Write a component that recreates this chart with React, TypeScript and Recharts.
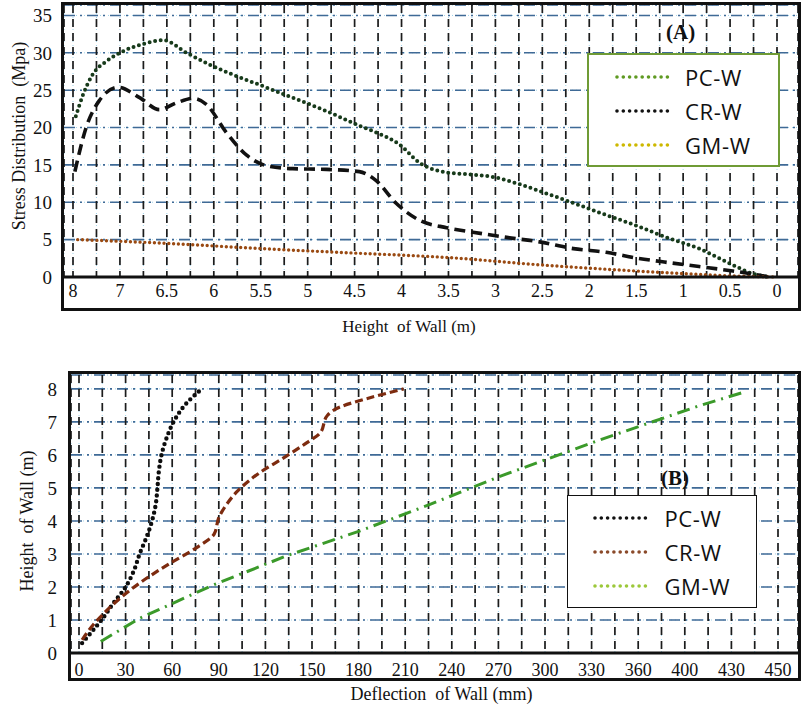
import React from 'react'
import { LineChart, Line, XAxis, YAxis, CartesianGrid, Legend } from 'recharts'

const seriesNames = ['PC-W', 'CR-W', 'GM-W']

// (A) stress vs height of wall
const pcwHeightA = [7.47, 7.39, 7.29, 7.14, 7.0, 6.75, 6.54, 6.29, 6.04, 5.8, 5.51, 5.16, 4.8, 4.46, 4.3, 4.02, 3.81, 3.52, 3.24, 3.03, 2.74, 2.46, 2.17, 1.82, 1.48, 1.2, 0.83, 0.47, 0.26, 0.08]
const pcwStressA = [21.5, 24.5, 27.1, 28.9, 30.0, 31.2, 31.7, 30.0, 28.4, 27.1, 25.7, 24.0, 22.2, 20.3, 19.5, 17.7, 15.3, 14.0, 13.7, 13.4, 12.4, 11.2, 9.9, 8.3, 6.8, 5.4, 3.8, 1.6, 0.45, 0]
const crwHeightA = [7.48, 7.36, 7.22, 7.02, 6.79, 6.58, 6.4, 6.22, 6.08, 5.87, 5.65, 5.44, 5.16, 4.8, 4.45, 4.27, 4.06, 3.81, 3.52, 3.24, 2.88, 2.53, 2.17, 1.82, 1.48, 1.2, 0.83, 0.47, 0.26, 0.08]
const crwStressA = [14.1, 20.0, 23.6, 25.4, 24.0, 22.4, 23.3, 23.9, 23.1, 19.4, 16.3, 14.9, 14.5, 14.4, 14.1, 12.9, 9.9, 7.6, 6.6, 6.0, 5.3, 4.7, 3.8, 3.3, 2.5, 2.0, 1.4, 0.8, 0.4, 0]
const gmwHeightA = [7.45, 6.5, 5.5, 4.5, 3.5, 2.5, 1.5, 1.0, 0.5, 0.0]
const gmwStressA = [5.0, 4.5, 3.8, 3.2, 2.6, 1.6, 0.8, 0.45, 0.15, 0]

const xGridA = [0, 0.25, 0.5, 0.75, 1, 1.25, 1.5, 1.75, 2, 2.25, 2.5, 2.75, 3, 3.25, 3.5, 3.75, 4, 4.25, 4.5, 4.75, 5, 5.25, 5.5, 5.75, 6, 6.25, 6.5, 6.75, 7, 7.25, 7.5]
const xLabelAtA = [7.5, 7, 6.5, 6, 5.5, 5, 4.5, 4, 3.5, 3, 2.5, 2, 1.5, 1, 0.5, 0]
const xLabelTextA = ['8', '7', '6.5', '6', '5.5', '5', '4.5', '4', '3.5', '3', '2.5', '2', '1.5', '1', '0.5', '0']
const yTicksA = [0, 5, 10, 15, 20, 25, 30, 35]

// (B) height vs deflection of wall
const pcwDeflB = [2, 11, 14.5, 22, 30, 35.4, 39, 43.4, 47, 49.4, 50.5, 51.4, 53.1, 56.3, 60.9, 68, 79]
const pcwHeightB = [0.3, 0.8, 1.0, 1.5, 2.0, 2.5, 3.0, 3.5, 4.0, 4.5, 5.0, 5.5, 6.0, 6.5, 7.0, 7.5, 8.0]
const crwDeflB = [2, 10, 16, 25, 40, 58, 76, 87, 90, 95, 102, 116, 132, 147, 155, 160, 168, 185, 209]
const crwHeightB = [0.4, 0.9, 1.2, 1.6, 2.15, 2.7, 3.2, 3.6, 4.1, 4.5, 4.9, 5.45, 5.92, 6.38, 6.65, 7.2, 7.45, 7.7, 8.0]
const gmwDeflB = [14, 39, 86, 134, 181, 226, 271, 335, 400, 428]
const gmwHeightB = [0.35, 1.05, 2.05, 2.95, 3.7, 4.5, 5.35, 6.45, 7.5, 7.9]

const xGridB = [0, 15, 30, 45, 60, 75, 90, 105, 120, 135, 150, 165, 180, 195, 210, 225, 240, 255, 270, 285, 300, 315, 330, 345, 360, 375, 390, 405, 420, 435, 450]
const xLabelAtB = [0, 30, 60, 90, 120, 150, 180, 210, 240, 270, 300, 330, 360, 390, 420, 450]
const xLabelTextB = ['0', '30', '60', '90', '120', '150', '180', '210', '240', '270', '300', '330', '360', '400', '430', '450']
const yTicksB = [0, 1, 2, 3, 4, 5, 6, 7, 8]

const legendColorsA = ['#5f9a22', '#111111', '#cdb800']
const legendColorsB = ['#111111', '#8b4a2a', '#9cc83a']

const pcwA = pcwHeightA.map((h, i) => ({ h, s: pcwStressA[i] }))
const crwA = crwHeightA.map((h, i) => ({ h, s: crwStressA[i] }))
const gmwA = gmwHeightA.map((h, i) => ({ h, s: gmwStressA[i] }))
const pcwB = pcwDeflB.map((x, i) => ({ x, h: pcwHeightB[i] }))
const crwB = crwDeflB.map((x, i) => ({ x, h: crwHeightB[i] }))
const gmwB = gmwDeflB.map((x, i) => ({ x, h: gmwHeightB[i] }))

const serif = '"Liberation Serif", "Times New Roman", serif'

const lookupLabel = (at: number[], text: string[]) => (v: number) => {
  const i = at.indexOf(v)
  return i >= 0 ? text[i] : ''
}

const axisTitle = (text: string, vertical: boolean, dx: number, dy: number, size: number) => (props: any) => {
  const vb = props.viewBox || { x: 0, y: 0, width: 0, height: 0 }
  const cx = vb.x + vb.width / 2 + dx
  const cy = vb.y + vb.height / 2 + dy
  return (
    <text
      x={cx}
      y={cy}
      transform={vertical ? `rotate(-90 ${cx} ${cy})` : undefined}
      textAnchor="middle"
      dominantBaseline="central"
      style={{ fontFamily: serif, fontSize: size, fill: '#111', whiteSpace: 'pre' }}
    >
      {text}
    </text>
  )
}

function LegendBox({ colors, border, bw, width, height, padTop, padLeft, gap }: any) {
  return (
    <div style={{ width, height, boxSizing: 'border-box', border: `${bw}px solid ${border}`, background: '#fff', paddingTop: padTop }}>
      {seriesNames.map((n, i) => (
        <div key={n} style={{ display: 'flex', alignItems: 'center', height: 34 }}>
          <svg width={60} height={8} style={{ marginLeft: padLeft, flex: 'none' }}>
            <line x1={2} y1={4} x2={58} y2={4} stroke={colors[i]} strokeWidth={3.6} strokeDasharray="0 6.3" strokeLinecap="round" />
          </svg>
          <span style={{ marginLeft: gap, fontFamily: '"Open Sans", sans-serif', fontSize: 22, color: '#111', letterSpacing: 0.6, lineHeight: '34px' }}>{n}</span>
        </div>
      ))}
    </div>
  )
}

export default function App() {
  return (
    <div style={{ position: 'absolute', left: 0, top: 0, width: 803, height: 710, background: '#fff', overflow: 'hidden' }}>
      <div style={{ position: 'absolute', left: 0, top: 0 }}>
        <LineChart width={803} height={340} margin={{ top: 5, right: 5, bottom: 31, left: 0 }}>
          <CartesianGrid stroke="#9fd3ea" strokeDasharray="1 3" />
          <CartesianGrid vertical={false} stroke="#3f6a96" strokeDasharray="11 5 2 5" strokeWidth={1.6} />
          <CartesianGrid horizontal={false} stroke="#1c1c1c" strokeDasharray="8 6" strokeWidth={1.7} />
          <XAxis
            type="number"
            dataKey="h"
            domain={[0, 7.5]}
            reversed
            ticks={xGridA}
            interval={0}
            height={32}
            padding={{ left: 9, right: 21 }}
            axisLine={{ stroke: '#111', strokeWidth: 3 }}
            tickLine={false}
            tickMargin={1}
            tickFormatter={lookupLabel(xLabelAtA, xLabelTextA)}
            tick={{ fill: '#111', fontSize: 18, fontFamily: serif }}
            label={{ content: axisTitle('Height  of Wall (m)', false, -22, 33, 17) }}
          />
          <YAxis
            type="number"
            domain={[0, 36.4]}
            ticks={yTicksA}
            interval={0}
            width={64}
            axisLine={false}
            tickLine={false}
            tickMargin={6}
            tick={{ fill: '#111', fontSize: 19, fontFamily: serif }}
            label={{ content: axisTitle('Stress Distribution  (Mpa)', true, -13, -5, 18) }}
          />
          <Line data={pcwA} dataKey="s" name="PC-W" type="monotone" stroke="#173a1a" strokeWidth={4} strokeDasharray="0 5.6" strokeLinecap="round" dot={false} activeDot={false} isAnimationActive={false} />
          <Line data={crwA} dataKey="s" name="CR-W" type="monotone" stroke="#111" strokeWidth={3.6} strokeDasharray="11 6" dot={false} activeDot={false} isAnimationActive={false} />
          <Line data={gmwA} dataKey="s" name="GM-W" type="monotone" stroke="#9a4a12" strokeWidth={3.4} strokeDasharray="0 4.8" strokeLinecap="round" dot={false} activeDot={false} isAnimationActive={false} />
          <Legend
            layout="horizontal"
            align="center"
            verticalAlign="middle"
            wrapperStyle={{ left: 587, top: 53, width: 193, height: 114 }}
            content={() => <LegendBox colors={legendColorsA} border="#6f9b35" bw={2} width={193} height={114} padTop={5} padLeft={26} gap={10} />}
          />
        </LineChart>
      </div>

      <div style={{ position: 'absolute', left: 0, top: 340 }}>
        <LineChart width={803} height={370} margin={{ top: 35, right: 5, bottom: 29, left: 0 }}>
          <CartesianGrid stroke="#9fd3ea" strokeDasharray="1 3" />
          <CartesianGrid vertical={false} stroke="#3f6a96" strokeDasharray="11 5 2 5" strokeWidth={1.6} />
          <CartesianGrid horizontal={false} stroke="#1c1c1c" strokeDasharray="8 6" strokeWidth={1.7} />
          <XAxis
            type="number"
            dataKey="x"
            domain={[0, 450]}
            ticks={xGridB}
            interval={0}
            height={28}
            padding={{ left: 8, right: 20 }}
            axisLine={{ stroke: '#111', strokeWidth: 3 }}
            tickLine={false}
            tickMargin={4}
            tickFormatter={lookupLabel(xLabelAtB, xLabelTextB)}
            tick={{ fill: '#111', fontSize: 18, fontFamily: serif }}
            label={{ content: axisTitle('Deflection  of Wall (mm)', false, 7, 27, 18) }}
          />
          <YAxis
            type="number"
            domain={[0, 8.42]}
            ticks={yTicksB}
            interval={0}
            width={71}
            axisLine={false}
            tickLine={false}
            tickMargin={8}
            tick={{ fill: '#111', fontSize: 19, fontFamily: serif }}
            label={{ content: axisTitle('Height  of Wall (m)', true, -8.5, 7, 18) }}
          />
          <Line data={pcwB} dataKey="h" name="PC-W" type="monotoneY" stroke="#0d0d0d" strokeWidth={4.4} strokeDasharray="0 5.8" strokeLinecap="round" dot={false} activeDot={false} isAnimationActive={false} />
          <Line data={crwB} dataKey="h" name="CR-W" type="monotoneY" stroke="#7d2b0f" strokeWidth={3.2} strokeDasharray="8 4" dot={false} activeDot={false} isAnimationActive={false} />
          <Line data={gmwB} dataKey="h" name="GM-W" type="linear" stroke="#3b9a2a" strokeWidth={3} strokeDasharray="13 6 2 6" dot={false} activeDot={false} isAnimationActive={false} />
          <Legend
            layout="horizontal"
            align="center"
            verticalAlign="middle"
            wrapperStyle={{ left: 567, top: 155, width: 190, height: 113 }}
            content={() => <LegendBox colors={legendColorsB} border="#111" bw={1.5} width={190} height={113} padTop={4.5} padLeft={24.5} gap={12} />}
          />
        </LineChart>
      </div>

      <div style={{ position: 'absolute', left: 61, top: 2, width: 740, height: 309, border: '3px solid #111', boxSizing: 'border-box', pointerEvents: 'none' }} />
      <div style={{ position: 'absolute', left: 68, top: 371, width: 733, height: 310, border: '3px solid #111', boxSizing: 'border-box', pointerEvents: 'none' }} />
      <div style={{ position: 'absolute', left: 666, top: 20, fontFamily: serif, fontWeight: 'bold', fontSize: 21, color: '#111' }}>(A)</div>
      <div style={{ position: 'absolute', left: 661, top: 466, fontFamily: serif, fontWeight: 'bold', fontSize: 21, color: '#111' }}>(B)</div>
    </div>
  )
}
